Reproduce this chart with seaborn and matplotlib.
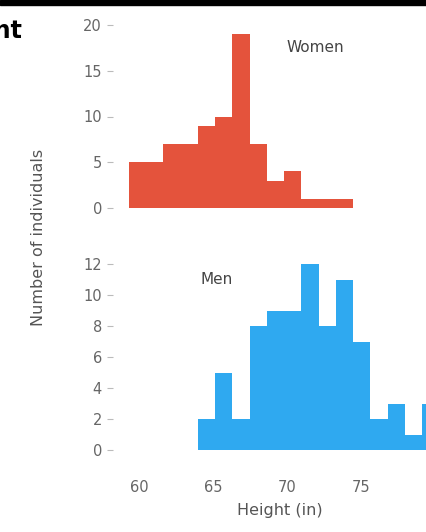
import numpy as np
import matplotlib
matplotlib.use("Agg")
import matplotlib.pyplot as plt
from matplotlib.patches import Rectangle
import seaborn as sns

# Data
bin_edges = [59.27, 60.44, 61.61, 62.78, 63.95, 65.12, 66.29, 67.46, 68.63,
             69.80, 70.97, 72.14, 73.31, 74.48, 75.65, 76.82, 77.99, 79.16, 80.33]
women_counts = [5, 5, 7, 7, 9, 10, 19, 7, 3, 4, 1, 1, 1, 0, 0, 0, 0, 0]
men_counts = [0, 0, 0, 0, 2, 5, 2, 8, 9, 9, 12, 8, 11, 7, 2, 3, 1, 3]
x_ticks = [60, 65, 70, 75]
women_yticks = [0, 5, 10, 15, 20]
men_yticks = [0, 2, 4, 6, 8, 10, 12]

centers = [(a + b) / 2 for a, b in zip(bin_edges[:-1], bin_edges[1:])]

sns.set_style("white")
plt.rcParams['font.family'] = ['DejaVu Sans']

W, H = 427, 532
fig = plt.figure(figsize=(W / 100, H / 100), dpi=100)

def fx(p):
    return p / W

def fy(p):
    return 1 - p / H

left = fx(113)
width = fx(467) - left
ax1 = fig.add_axes([left, fy(208), width, fy(25) - fy(208)])
ax2 = fig.add_axes([left, fy(450), width, fy(264) - fy(450)], sharex=ax1)

red = "#E4533C"
blue = "#2FA9F0"
sns.histplot(x=centers, weights=women_counts, bins=bin_edges, color=red,
             alpha=1, linewidth=0, ax=ax1)
sns.histplot(x=centers, weights=men_counts, bins=bin_edges, color=blue,
             alpha=1, linewidth=0, ax=ax2)

tick_color = "#666666"
for ax, yt in ((ax1, women_yticks), (ax2, men_yticks)):
    ax.set_xlim(58.2, 82.2)
    ax.set_ylim(0, max(yt))
    ax.set_yticks(yt)
    ax.set_ylabel("")
    ax.set_xlabel("")
    for s in ax.spines.values():
        s.set_visible(False)
    ax.tick_params(axis='y', left=True, length=4, width=0.8, color="#bbbbbb",
                   labelsize=10.5, labelcolor=tick_color, pad=4)
ax1.tick_params(axis='x', bottom=False, labelbottom=False)
ax2.set_xticks(x_ticks)
ax2.tick_params(axis='x', bottom=False, labelsize=10.5, labelcolor=tick_color, pad=18)

ax1.text(fx(315), fy(47), "Women", transform=fig.transFigure, ha='center', va='center',
         fontsize=11, color="#444444")
ax2.text(fx(217), fy(279), "Men", transform=fig.transFigure, ha='center', va='center',
         fontsize=11, color="#444444")

fig.text(fx(280), fy(511), "Height (in)", ha='center', va='center', fontsize=11.5, color="#555555")
fig.text(fx(39), fy(237), "Number of individuals", ha='center', va='center', rotation=90,
         fontsize=11.5, color="#555555")

# partially visible title at the top-left
fig.text(fx(23), fy(31), "Height", ha='right', va='center', fontsize=17,
         fontweight='bold', color="black")

# black top border
fig.add_artist(Rectangle((0, fy(5)), 1, fy(0) - fy(5), transform=fig.transFigure,
                         color="black", zorder=10))

fig.savefig("out.png", dpi=100)
